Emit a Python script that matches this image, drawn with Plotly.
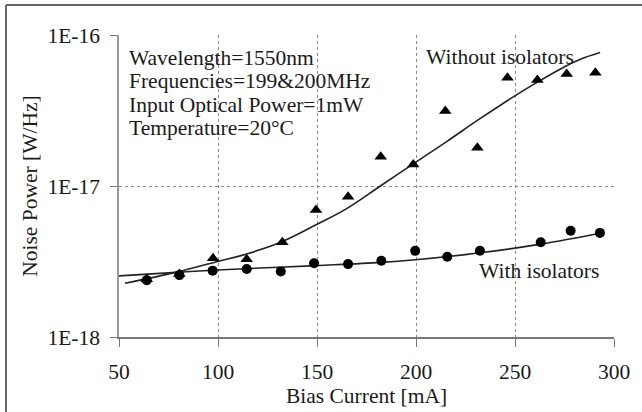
import plotly.graph_objects as go

# Measured data: without isolators (triangles)
x_without = [64, 80.5, 97.5, 114.5, 132.5, 149.5, 165.7, 182.2, 198.6, 214.8, 231, 246.2, 261.3, 276.1, 290.6]
y_without = [2.41e-18, 2.61e-18, 3.32e-18, 3.27e-18, 4.24e-18, 6.93e-18, 8.49e-18, 1.56e-17, 1.39e-17,
             3.14e-17, 1.79e-17, 5.21e-17, 5.04e-17, 5.52e-17, 5.62e-17]

# Measured data: with isolators (circles)
x_with = [64, 80.5, 97.3, 114.5, 131.7, 148.5, 165.7, 182.5, 199.6, 215.8, 232.3, 263, 278.1, 292.9]
y_with = [2.38e-18, 2.57e-18, 2.75e-18, 2.82e-18, 2.72e-18, 3.08e-18, 3.04e-18, 3.2e-18, 3.72e-18,
          3.4e-18, 3.73e-18, 4.24e-18, 5.06e-18, 4.89e-18]

# Fitted curves
fit_without_x = [53, 79.1, 99.3, 114.5, 131.3, 149.8, 165, 182, 198.6, 215.5, 232.3, 249.1, 260.9, 274.4, 283, 293]
fit_without_y = [2.27e-18, 2.69e-18, 3.15e-18, 3.55e-18, 4.22e-18, 5.56e-18, 7.08e-18, 1.0e-17, 1.40e-17,
                 1.97e-17, 2.79e-17, 3.89e-17, 4.84e-17, 6.10e-17, 6.92e-17, 7.67e-17]
fit_with_x = [50, 79.1, 99.3, 149.6, 182.5, 199.6, 232.3, 263, 293]
fit_with_y = [2.54e-18, 2.68e-18, 2.78e-18, 2.97e-18, 3.12e-18, 3.25e-18, 3.61e-18, 4.12e-18, 4.86e-18]

x_ticks = [50, 100, 150, 200, 250, 300]
y_ticks = [1e-18, 1e-17, 1e-16]
y_tick_text = ["1E-18", "1E-17", "1E-16"]

info_lines = ["Wavelength=1550nm", "Frequencies=199&200MHz", "Input Optical Power=1mW", "Temperature=20°C"]

FONT = "Liberation Serif, Times New Roman, serif"
FS = 21.5
INK = "#1a1a1a"

fig = go.Figure()
fig.add_trace(go.Scatter(x=fit_without_x, y=fit_without_y, mode="lines",
                         line=dict(color="#222222", width=1.6, shape="spline", smoothing=1.1), showlegend=False))
fig.add_trace(go.Scatter(x=fit_with_x, y=fit_with_y, mode="lines",
                         line=dict(color="#222222", width=1.6, shape="spline", smoothing=1.1), showlegend=False))
fig.add_trace(go.Scatter(x=x_without, y=y_without, mode="markers",
                         marker=dict(symbol="triangle-up", size=11, color="#000000"), showlegend=False))
fig.add_trace(go.Scatter(x=x_with, y=y_with, mode="markers",
                         marker=dict(symbol="circle", size=10, color="#000000"), showlegend=False))

# info text block
for i, t in enumerate(info_lines):
    fig.add_annotation(x=(127 - 119) / 495, y=(337 - (58 + 23.3 * i)) / 302, xref="paper", yref="paper",
                       text=t, showarrow=False, xanchor="left", yanchor="middle",
                       font=dict(family=FONT, size=FS, color=INK))

fig.add_annotation(x=(424 - 119) / 495, y=(337 - 57) / 302, xref="paper", yref="paper",
                   text="Without isolators", showarrow=False, xanchor="left", yanchor="middle",
                   font=dict(family=FONT, size=FS, color=INK))
fig.add_annotation(x=(601 - 119) / 495, y=(337 - 271) / 302, xref="paper", yref="paper",
                   text="With isolators", showarrow=False, xanchor="right", yanchor="middle",
                   font=dict(family=FONT, size=FS, color=INK))

# outer frame (left + top edges visible)
fig.add_shape(type="line", xref="paper", yref="paper", x0=-113 / 495, x1=-113 / 495,
              y0=-80 / 302, y1=332 / 302, line=dict(color="#666666", width=2))
fig.add_shape(type="line", xref="paper", yref="paper", x0=-113 / 495, x1=530 / 495,
              y0=332 / 302, y1=332 / 302, line=dict(color="#666666", width=2))

fig.update_layout(
    width=642, height=412,
    margin=dict(l=119, r=28, t=35, b=75, autoexpand=False),
    paper_bgcolor="white", plot_bgcolor="white",
    font=dict(family=FONT, size=FS, color=INK),
    xaxis=dict(range=[50, 300], tickvals=x_ticks, showgrid=True, gridcolor="#8a8a8a", griddash="dot",
               gridwidth=1, showline=True, linecolor="#777777", linewidth=1.5, ticks="outside",
               ticklen=8, tickcolor="#777777", zeroline=False, ticklabelstandoff=6,
               title=dict(text="Bias Current [mA]", standoff=0, font=dict(family=FONT, size=FS)),
               tickfont=dict(family=FONT, size=FS, color=INK)),
    yaxis=dict(type="log", range=[-18, -16], tickvals=y_ticks, ticktext=y_tick_text, showgrid=True,
               gridcolor="#8a8a8a", griddash="dot", gridwidth=1, showline=True, linecolor="#999999",
               linewidth=1.5, ticks="outside", ticklen=7, tickcolor="#777777", zeroline=False,
               ticklabelstandoff=6,
               title=dict(text="Noise Power [W/Hz]", standoff=4, font=dict(family=FONT, size=FS)),
               tickfont=dict(family=FONT, size=FS, color=INK), minor=dict(showgrid=False)),
)

fig.write_html("out.html")
